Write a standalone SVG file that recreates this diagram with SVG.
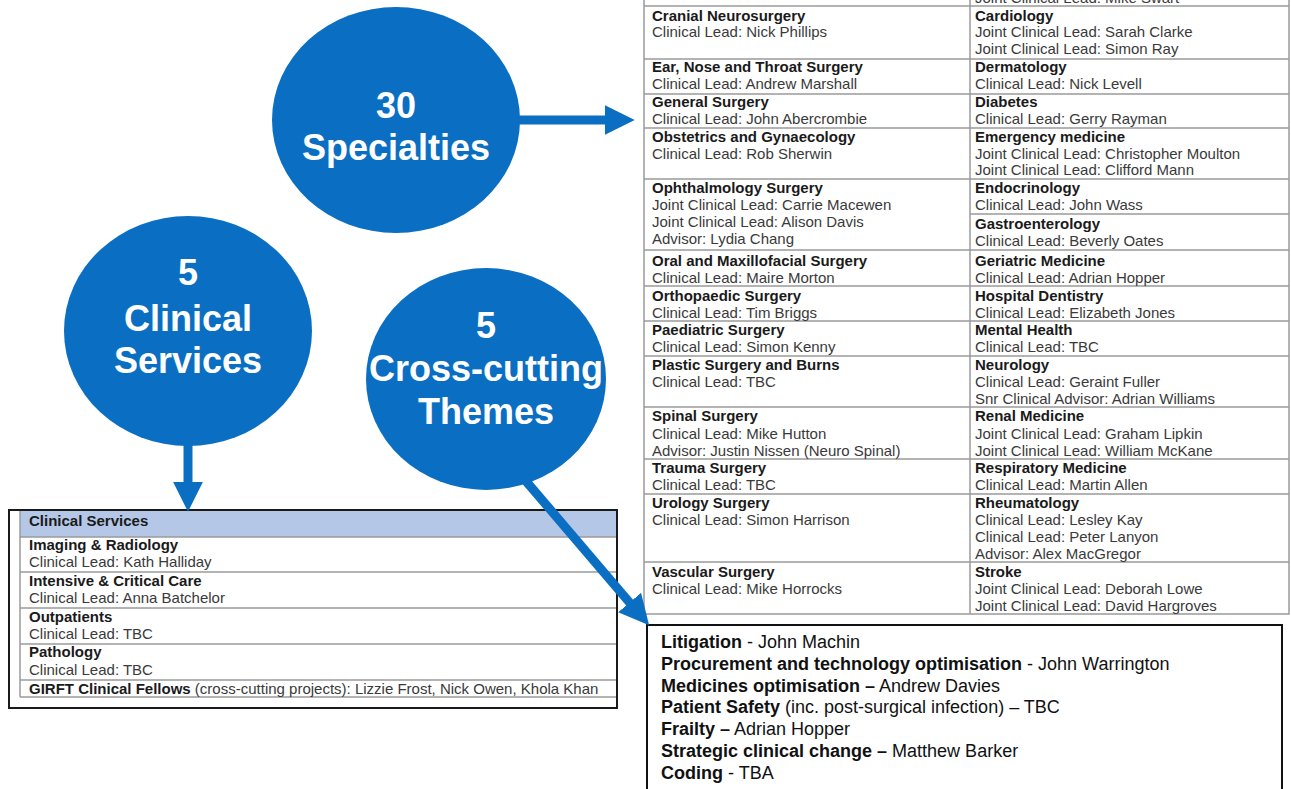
<svg xmlns="http://www.w3.org/2000/svg" width="1291" height="789" viewBox="0 0 1291 789">
<defs>
<style>
text{font-family:"Liberation Sans",Arial,sans-serif;}
.t{font-size:15px;fill:#3a3a3a;}
.b{font-size:15px;font-weight:bold;fill:#1a1a1a;}
.c{font-size:36px;font-weight:bold;fill:#ffffff;text-anchor:middle;}
.x{font-size:18px;fill:#111;}
.xb{font-weight:bold;}
.grid{stroke:#9a9a9a;stroke-width:1.5;fill:none;}
.blue{fill:#0a6fc2;}
.arrow{stroke:#0a6fc2;stroke-width:9;fill:none;}
</style>
<marker id="ah" markerUnits="userSpaceOnUse" markerWidth="30" markerHeight="30" refX="4" refY="14" orient="auto" viewBox="0 0 28 28">
<path d="M0,0 L28,14 L0,28 z" fill="#0a6fc2"/>
</marker>
</defs>
<rect width="1291" height="789" fill="#ffffff"/>

<g id="node-specialties">
<ellipse class="blue" cx="396" cy="120" rx="124" ry="113"/>
<text class="c" x="396" y="118">30</text>
<text class="c" x="396" y="160">Specialties</text>
</g>

<g id="node-clinical-services">
<ellipse class="blue" cx="188" cy="331" rx="124" ry="115"/>
<text class="c" x="188" y="285">5</text>
<text class="c" x="188" y="331">Clinical</text>
<text class="c" x="188" y="373">Services</text>
</g>

<g id="node-cross-cutting">
<ellipse class="blue" cx="486" cy="379" rx="120" ry="111"/>
<text class="c" x="486" y="338">5</text>
<text class="c" x="486" y="381">Cross-cutting</text>
<text class="c" x="486" y="424">Themes</text>
</g>

<g id="table-specialties">
<rect x="644" y="-2" width="645" height="616" fill="#ffffff" class="grid"/>
<line class="grid" x1="970" y1="-2" x2="970" y2="614"/>
<path class="grid" d="M644,6H1289 M644,59H1289 M644,94H1289 M644,128H1289 M644,179H1289 M970,214H1289 M644,250H1289 M644,286H1289 M644,321H1289 M644,356H1289 M644,407H1289 M644,459H1289 M644,494H1289 M644,562H1289"/>
<text class="t" x="975" y="3">Joint Clinical Lead: Mike Swart</text>

<text class="b" x="652" y="21">Cranial Neurosurgery</text>
<text class="t" x="652" y="37">Clinical Lead: Nick Phillips</text>
<text class="b" x="652" y="72">Ear, Nose and Throat Surgery</text>
<text class="t" x="652" y="89">Clinical Lead: Andrew Marshall</text>
<text class="b" x="652" y="107">General Surgery</text>
<text class="t" x="652" y="124">Clinical Lead: John Abercrombie</text>
<text class="b" x="652" y="142">Obstetrics and Gynaecology</text>
<text class="t" x="652" y="159">Clinical Lead: Rob Sherwin</text>
<text class="b" x="652" y="193">Ophthalmology Surgery</text>
<text class="t" x="652" y="210">Joint Clinical Lead: Carrie Macewen</text>
<text class="t" x="652" y="227">Joint Clinical Lead: Alison Davis</text>
<text class="t" x="652" y="244">Advisor: Lydia Chang</text>
<text class="b" x="652" y="266">Oral and Maxillofacial Surgery</text>
<text class="t" x="652" y="283">Clinical Lead: Maire Morton</text>
<text class="b" x="652" y="301">Orthopaedic Surgery</text>
<text class="t" x="652" y="318">Clinical Lead: Tim Briggs</text>
<text class="b" x="652" y="335">Paediatric Surgery</text>
<text class="t" x="652" y="352">Clinical Lead: Simon Kenny</text>
<text class="b" x="652" y="370">Plastic Surgery and Burns</text>
<text class="t" x="652" y="387">Clinical Lead: TBC</text>
<text class="b" x="652" y="421">Spinal Surgery</text>
<text class="t" x="652" y="439">Clinical Lead: Mike Hutton</text>
<text class="t" x="652" y="456">Advisor: Justin Nissen (Neuro Spinal)</text>
<text class="b" x="652" y="473">Trauma Surgery</text>
<text class="t" x="652" y="490">Clinical Lead: TBC</text>
<text class="b" x="652" y="508">Urology Surgery</text>
<text class="t" x="652" y="525">Clinical Lead: Simon Harrison</text>
<text class="b" x="652" y="577">Vascular Surgery</text>
<text class="t" x="652" y="594">Clinical Lead: Mike Horrocks</text>

<text class="b" x="975" y="21">Cardiology</text>
<text class="t" x="975" y="37">Joint Clinical Lead: Sarah Clarke</text>
<text class="t" x="975" y="54">Joint Clinical Lead: Simon Ray</text>
<text class="b" x="975" y="72">Dermatology</text>
<text class="t" x="975" y="89">Clinical Lead: Nick Levell</text>
<text class="b" x="975" y="107">Diabetes</text>
<text class="t" x="975" y="124">Clinical Lead: Gerry Rayman</text>
<text class="b" x="975" y="142">Emergency medicine</text>
<text class="t" x="975" y="159">Joint Clinical Lead: Christopher Moulton</text>
<text class="t" x="975" y="175">Joint Clinical Lead: Clifford Mann</text>
<text class="b" x="975" y="193">Endocrinology</text>
<text class="t" x="975" y="210">Clinical Lead: John Wass</text>
<text class="b" x="975" y="229">Gastroenterology</text>
<text class="t" x="975" y="246">Clinical Lead: Beverly Oates</text>
<text class="b" x="975" y="266">Geriatric Medicine</text>
<text class="t" x="975" y="283">Clinical Lead: Adrian Hopper</text>
<text class="b" x="975" y="301">Hospital Dentistry</text>
<text class="t" x="975" y="318">Clinical Lead: Elizabeth Jones</text>
<text class="b" x="975" y="335">Mental Health</text>
<text class="t" x="975" y="352">Clinical Lead: TBC</text>
<text class="b" x="975" y="370">Neurology</text>
<text class="t" x="975" y="387">Clinical Lead: Geraint Fuller</text>
<text class="t" x="975" y="404">Snr Clinical Advisor: Adrian Williams</text>
<text class="b" x="975" y="421">Renal Medicine</text>
<text class="t" x="975" y="439">Joint Clinical Lead: Graham Lipkin</text>
<text class="t" x="975" y="456">Joint Clinical Lead: William McKane</text>
<text class="b" x="975" y="473">Respiratory Medicine</text>
<text class="t" x="975" y="490">Clinical Lead: Martin Allen</text>
<text class="b" x="975" y="508">Rheumatology</text>
<text class="t" x="975" y="525">Clinical Lead: Lesley Kay</text>
<text class="t" x="975" y="542">Clinical Lead: Peter Lanyon</text>
<text class="t" x="975" y="559">Advisor: Alex MacGregor</text>
<text class="b" x="975" y="577">Stroke</text>
<text class="t" x="975" y="594">Joint Clinical Lead: Deborah Lowe</text>
<text class="t" x="975" y="611">Joint Clinical Lead: David Hargroves</text>
</g>

<g id="table-clinical-services">
<rect x="9" y="510" width="608" height="198" fill="#ffffff" stroke="#1a1a1a" stroke-width="2"/>
<rect x="20" y="511" width="596" height="26" fill="#b4c7e7"/>
<path class="grid" d="M20,511V697 M20,537H616 M20,572H616 M20,608H616 M20,644H616 M20,680H616 M20,697H616"/>
<text class="b" x="29" y="526">Clinical Services</text>
<text class="b" x="29" y="550">Imaging &amp; Radiology</text>
<text class="t" x="29" y="567">Clinical Lead: Kath Halliday</text>
<text class="b" x="29" y="586">Intensive &amp; Critical Care</text>
<text class="t" x="29" y="603">Clinical Lead: Anna Batchelor</text>
<text class="b" x="29" y="622">Outpatients</text>
<text class="t" x="29" y="639">Clinical Lead: TBC</text>
<text class="b" x="29" y="657">Pathology</text>
<text class="t" x="29" y="675">Clinical Lead: TBC</text>
<text class="t" x="29" y="694"><tspan class="b">GIRFT Clinical Fellows</tspan> (cross-cutting projects): Lizzie Frost, Nick Owen, Khola Khan</text>
</g>

<g id="box-cross-cutting-themes">
<rect x="647" y="625" width="635" height="175" fill="#ffffff" stroke="#111" stroke-width="2"/>
<text class="x" x="661" y="648"><tspan class="xb">Litigation</tspan> - John Machin</text>
<text class="x" x="661" y="670"><tspan class="xb">Procurement and technology optimisation</tspan> - John Warrington</text>
<text class="x" x="661" y="692"><tspan class="xb">Medicines optimisation –</tspan> Andrew Davies</text>
<text class="x" x="661" y="713"><tspan class="xb">Patient Safety</tspan> (inc. post-surgical infection) – TBC</text>
<text class="x" x="661" y="735"><tspan class="xb">Frailty –</tspan> Adrian Hopper</text>
<text class="x" x="661" y="757"><tspan class="xb">Strategic clinical change –</tspan> Matthew Barker</text>
<text class="x" x="661" y="779"><tspan class="xb">Coding</tspan> - TBA</text>
</g>

<g id="connectors">
<line class="arrow" x1="515" y1="120" x2="609" y2="120" marker-end="url(#ah)"/>
<line class="arrow" x1="188" y1="440" x2="188" y2="486" marker-end="url(#ah)"/>
<line class="arrow" x1="525" y1="480" x2="632.4" y2="605.8" marker-end="url(#ah)"/>
</g>
</svg>
